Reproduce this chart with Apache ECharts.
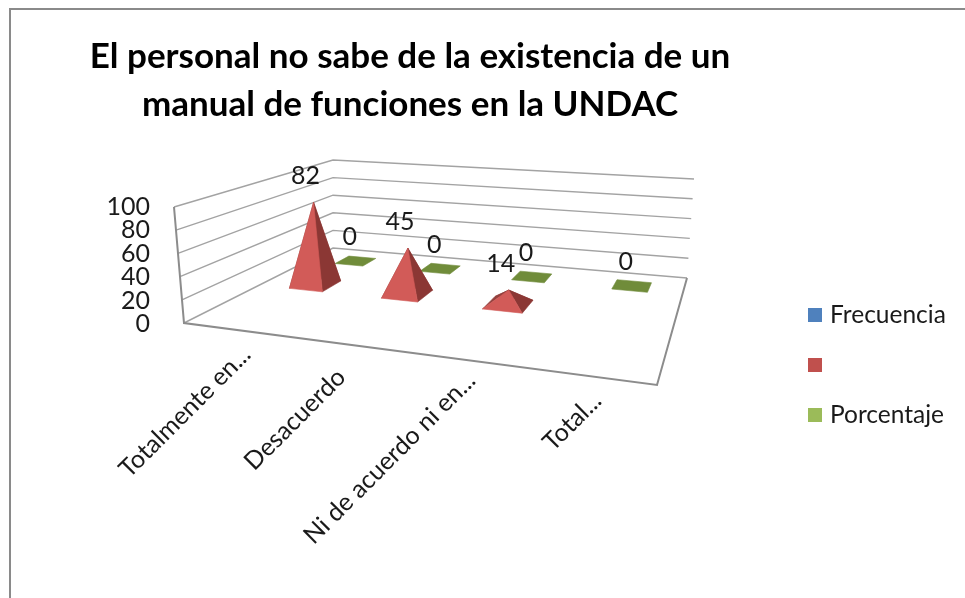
<!DOCTYPE html>
<html><head><meta charset="utf-8">
<style>html,body{margin:0;padding:0;background:#fff}#c{width:965px;height:598px}</style>
<script src="https://cdn.jsdelivr.net/npm/echarts@6/dist/echarts.min.js"></script>
</head><body><div id="c"></div>
<script>
const titleText = 'El personal no sabe de la existencia de un\nmanual de funciones en la UNDAC';
const categories = ['Totalmente en...', 'Desacuerdo', 'Ni de acuerdo ni en...', 'Total...'];
const frecuencia = [null, null, null, null];
const sinNombre = [82, 45, 14, null];
const porcentaje = [0, 0, 0, 0];
const wallTicks = [0, 20, 40, 60, 80, 100];

const FONT = 'Lato, Carlito, sans-serif';
const GRID = {left: 160, top: 207, width: 500, height: 117};
// scene frame of the 3D box: floor corners and the vertical vector at each corner
const floorQ = mapper([184,323],[657,385],[687,278],[333,248]);
const UP = {fl:[-10,-116], fr:[13,-117], br:[7,-99], bl:[0,-88]};
const LABEL_OFF = [[14,21],[4,30],[17,18],[12,21]];

function mapper(p00,p10,p11,p01){
  const dx1=p10[0]-p11[0],dx2=p01[0]-p11[0],sx=p00[0]-p10[0]+p11[0]-p01[0];
  const dy1=p10[1]-p11[1],dy2=p01[1]-p11[1],sy=p00[1]-p10[1]+p11[1]-p01[1];
  const D=dx1*dy2-dx2*dy1;
  const g=(sx*dy2-dx2*sy)/D,h=(dx1*sy-sx*dy1)/D;
  const a=p10[0]-p00[0]+g*p10[0],b=p01[0]-p00[0]+h*p01[0],c=p00[0];
  const d=p10[1]-p00[1]+g*p10[1],e=p01[1]-p00[1]+h*p01[1],f=p00[1];
  return (u,v)=>{const q=g*u+h*v+1;return [(a*u+b*v+c)/q,(d*u+e*v+f)/q];};
}
function P(u,v,w){
  const a=floorQ(u,v), t=Math.pow(v,0.75);
  const up=[0,1].map(k=>(1-u)*((1-t)*UP.fl[k]+t*UP.bl[k])+u*((1-t)*UP.fr[k]+t*UP.br[k]));
  return [a[0]+up[0]*w,a[1]+up[1]*w];
}
function norm(api,cat,val){
  const p=api.coord([cat,val]);
  return {u:(p[0]-GRID.left)/GRID.width,w:(GRID.top+GRID.height-p[1])/GRID.height,y:p[1]};
}
function poly(points,fill){
  return {type:'polygon',shape:{points},style:{fill,stroke:fill,lineWidth:0.6}};
}
function line(points,stroke,lineWidth){
  return {type:'polyline',shape:{points},style:{fill:null,stroke,lineWidth}};
}
function label(p,text){
  return {type:'text',x:p[0],y:p[1],style:{text:String(text),font:'25px '+FONT,fill:'#1a1a1a',align:'center',verticalAlign:'middle'}};
}
const DU=0.046, DV=0.07, SHIFT=0.008;
function renderRed(params,api){
  const v=api.value(1); if(isNaN(v)) return null;
  const n=norm(api,api.value(0),v), row=0.5, u=n.u+SHIFT;
  const FL=P(u-DU,row-DV,0),FR=P(u+DU,row-DV,0),BR=P(u+DU,row+DV,0),BL=P(u-DU,row+DV,0),A=P(u,row,n.w);
  const t=[A[0]-8,A[1]-26];
  return {type:'group',children:[
    poly([BL,BR,A],'#8f3a38'),poly([BL,FL,A],'#93403d'),poly([BR,FR,A],'#8b3734'),poly([FL,FR,A],'#d25b58'),label(t,v)]};
}
function renderGreen(params,api){
  const v=api.value(1); if(isNaN(v)) return null;
  const n=norm(api,api.value(0),v), row=0.84, du=0.042, dv=0.06, u=n.u+0.004;
  const c=P(u,row,n.w);
  return {type:'group',children:[
    poly([P(u-du,row-dv,n.w),P(u+du,row-dv,n.w),P(u+du,row+dv,n.w),P(u-du,row+dv,n.w)],'#708c3a'),
    label([c[0]-6,c[1]-24],v)]};
}
function renderWall(params,api){
  const val=api.value(0), n=norm(api,0,val);
  return {type:'group',children:[
    line([P(0,0,n.w),P(0,1,n.w),P(1,1,n.w)],'#a3a3a3',1.4),
    {type:'text',x:GRID.left-10,y:n.y,style:{text:String(val),font:'25px '+FONT,fill:'#1a1a1a',align:'right',verticalAlign:'middle'}}
  ]};
}
function renderBox(params,api){
  return {type:'group',children:[
    line([P(0,0,1),P(0,0,0),P(1,0,0),P(1,1,0)],'#8c8c8c',2)]};
}
function renderCat(params,api){
  const i=api.value(0), n=norm(api,i,0), p=P(n.u,0,0);
  return {type:'text',x:p[0]+LABEL_OFF[i][0],y:p[1]+LABEL_OFF[i][1],rotation:Math.PI/4,
    style:{text:categories[i],font:'25px '+FONT,fill:'#1a1a1a',align:'right',verticalAlign:'middle'}};
}
const toData=a=>a.map((v,i)=>[i,v]);
const enc={x:0,y:1};
const chart=echarts.init(document.getElementById('c'),null,{renderer:'canvas'});
chart.setOption({
  animation:false,backgroundColor:'#fff',
  title:{text:titleText,left:405,top:28,textAlign:'center',
    textStyle:{fontFamily:FONT,fontWeight:'bold',fontSize:35,lineHeight:48,color:'#000'}},
  legend:{orient:'vertical',left:808,top:302,padding:0,itemWidth:14,itemHeight:14,itemGap:24,selectedMode:false,icon:'rect',
    data:['Frecuencia',' ','Porcentaje'],
    textStyle:{fontFamily:FONT,fontSize:24.5,color:'#1a1a1a',lineHeight:26,padding:[0,0,0,3]}},
  grid:Object.assign({},GRID),
  xAxis:{type:'category',data:categories,show:false},
  yAxis:{type:'value',min:0,max:100,interval:20,show:false},
  graphic:[{type:'rect',shape:{x:10,y:9,width:1200,height:1200},style:{fill:null,stroke:'#8a8a8a',lineWidth:2},silent:true,z:-1}],
  series:[
    {type:'custom',name:'walls',coordinateSystem:'cartesian2d',data:wallTicks.map(t=>[t]),encode:{y:0},renderItem:renderWall,z:1,silent:true},
    {type:'custom',name:'box',coordinateSystem:'cartesian2d',data:[[0,0]],encode:enc,renderItem:renderBox,z:1,silent:true},
    {type:'custom',name:'cats',coordinateSystem:'cartesian2d',data:categories.map((c,i)=>[i,0]),encode:enc,renderItem:renderCat,z:2,silent:true},
    {type:'custom',name:'Porcentaje',coordinateSystem:'cartesian2d',data:toData(porcentaje),encode:enc,renderItem:renderGreen,itemStyle:{color:'#9BBB59'},z:3},
    {type:'custom',name:' ',coordinateSystem:'cartesian2d',data:toData(sinNombre),encode:enc,renderItem:renderRed,itemStyle:{color:'#C0504D'},z:4},
    {type:'custom',name:'Frecuencia',coordinateSystem:'cartesian2d',data:toData(frecuencia),encode:enc,renderItem:()=>null,itemStyle:{color:'#4F81BD'},z:5}
  ]
});
</script></body></html>
